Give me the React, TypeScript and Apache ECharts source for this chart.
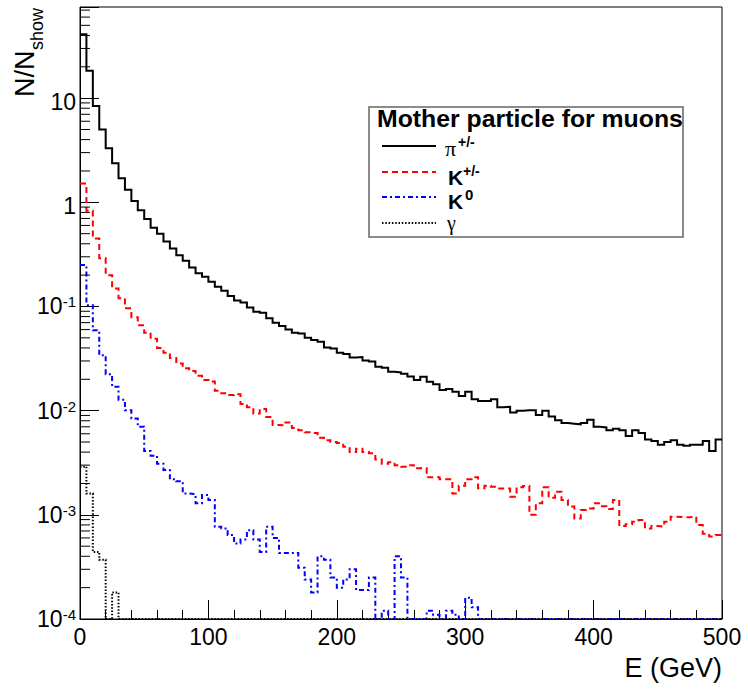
import React, { useEffect, useRef } from "react";
import * as echarts from "echarts";

const BIN_WIDTH = 5;
const X_MIN = 0;
const X_MAX = 500;
const X_INTERVAL = 100;
const Y_MIN = 1e-4;
const Y_MAX = 75;

// pi+/- (black solid), 5 GeV bins from 0 to 500 GeV
const piValues = [
  41, 18.3, 8.4, 5.0, 3.3, 2.37, 1.7, 1.32, 1.03, 0.84,
  0.69, 0.57, 0.5, 0.42, 0.36, 0.31, 0.275, 0.237, 0.208, 0.193,
  0.173, 0.155, 0.142, 0.126, 0.114, 0.109, 0.098, 0.089, 0.087, 0.077,
  0.07, 0.065, 0.06, 0.056, 0.055, 0.05, 0.0476, 0.0459, 0.0405, 0.0396,
  0.036, 0.0349, 0.0323, 0.0327, 0.0303, 0.0297, 0.0264, 0.0258, 0.0236, 0.0233,
  0.0226, 0.0213, 0.0197, 0.0212, 0.0189, 0.0179, 0.0158, 0.0161, 0.0152, 0.0138,
  0.0152, 0.0129, 0.0124, 0.0124, 0.0129, 0.0108, 0.0109, 0.0096, 0.01, 0.0101,
  0.0101, 0.0091, 0.01, 0.0088, 0.0081, 0.0076, 0.0075, 0.0074, 0.0076, 0.0082,
  0.007, 0.0069, 0.0065, 0.0067, 0.0065, 0.0057, 0.0065, 0.0061, 0.0053, 0.0051,
  0.0047, 0.005, 0.0052, 0.0047, 0.0046, 0.0047, 0.0047, 0.0051, 0.0041, 0.0053,
];

// K+/- (red dashed)
const kChargedValues = [
  1.52, 0.83, 0.45, 0.29, 0.2, 0.149, 0.12, 0.096, 0.079, 0.066,
  0.056, 0.049, 0.04, 0.036, 0.032, 0.0284, 0.0255, 0.024, 0.0216, 0.0197,
  0.019, 0.0155, 0.0147, 0.0141, 0.0144, 0.0116, 0.0108, 0.0094, 0.0104, 0.0087,
  0.0073, 0.0072, 0.0077, 0.0068, 0.0065, 0.0062, 0.0061, 0.0055, 0.0052, 0.005,
  0.0049, 0.0045, 0.004, 0.0043, 0.004, 0.0039, 0.0034, 0.0031, 0.0032, 0.003,
  0.0029, 0.003, 0.0028, 0.0028, 0.0023, 0.0023, 0.0022, 0.0022, 0.0016, 0.0019,
  0.0022, 0.0023, 0.0018, 0.0019, 0.00186, 0.00179, 0.00179, 0.00149, 0.00184, 0.00189,
  0.001, 0.00129, 0.00184, 0.00146, 0.00167, 0.00139, 0.0012, 0.00092, 0.00111, 0.00115,
  0.00129, 0.00121, 0.00114, 0.00139, 0.00078, 0.00081, 0.00086, 0.00089, 0.00074, 0.00078,
  0.00077, 0.00086, 0.00096, 0.00095, 0.00095, 0.00096, 0.0008, 0.00066, 0.00062, 0.00064,
];

// K0 (blue dash-dot)
const k0Values = [
  0.25, 0.103, 0.059, 0.034, 0.0224, 0.017, 0.0127, 0.0101, 0.0084, 0.007,
  0.0041, 0.0037, 0.0031, 0.0027, 0.0022, 0.0021, 0.0016, 0.00158, 0.00129, 0.00155,
  0.00139, 0.00077, 0.00074, 0.00064, 0.00053, 0.00058, 0.00071, 0.00058, 0.00044, 0.00077,
  0.0006, 0.00043, 0.00043, 0.00043, 0.00031, 0.00024, 0.00018, 0.0004, 0.00037, 0.00025,
  0.0002, 0.00024, 0.0003, 0.00019, 0.00019, 0.00025, 0, 0.00012, 0, 0.0004,
  0.00025, 0, 0, 0, 0.00012, 0.00011, 0, 0.00012, 0.00011, 0,
  0.00016, 0.00013, 0, 0, 0, 0, 0, 0, 0, 0,
  0, 0, 0, 0, 0, 0, 0, 0, 0, 0,
  0, 0, 0, 0, 0, 0, 0, 0, 0, 0,
  0, 0, 0, 0, 0, 0, 0, 0, 0, 0,
];

// gamma (black dotted)
const gammaValues = [
  0.0029, 0.0016, 0.00044, 0.00037, 0, 0.00018, 0, 0, 0, 0,
  0, 0, 0, 0, 0, 0, 0, 0, 0, 0,
  0, 0, 0, 0, 0, 0, 0, 0, 0, 0,
  0, 0, 0, 0, 0, 0, 0, 0, 0, 0,
  0, 0, 0, 0, 0, 0, 0, 0, 0, 0,
  0, 0, 0, 0, 0, 0, 0, 0, 0, 0,
  0, 0, 0, 0, 0, 0, 0, 0, 0, 0,
  0, 0, 0, 0, 0, 0, 0, 0, 0, 0,
  0, 0, 0, 0, 0, 0, 0, 0, 0, 0,
  0, 0, 0, 0, 0, 0, 0, 0, 0, 0,
];

const Y_DECADES = [1e-4, 1e-3, 1e-2, 1e-1, 1, 10];
const Y_MINOR_MULTIPLIERS = [2, 3, 4, 5, 6, 7, 8, 9];

const X_TITLE = "E (GeV)";
const Y_TITLE_MAIN = "N/N";
const Y_TITLE_SUB = "show";
const LEGEND_HEADER = "Mother particle for muons";

const FONT = "'Liberation Sans', Arial, Helvetica, sans-serif";
const SERIF = "'Liberation Serif', 'Times New Roman', serif";

const DASH_RED = [6, 4];
const DASH_BLUE = [5, 3, 2, 3];
const DASH_DOT = [1.5, 1.8];

function histData(vals: number[]) {
  const pts = vals.map((v, i) => [X_MIN + i * BIN_WIDTH, v > 0 ? v : Y_MIN]);
  const last = vals[vals.length - 1];
  pts.push([X_MIN + vals.length * BIN_WIDTH, last > 0 ? last : Y_MIN]);
  return pts;
}

function yLabel(v: number) {
  const l = Math.log10(v);
  const e = Math.round(l);
  if (Math.abs(l - e) > 1e-6) return "";
  if (e === 0) return "{p|1}";
  if (e === 1) return "{p|10}";
  return "{b|10}{s|" + e + "}";
}

export default function App() {
  const ref = useRef<HTMLDivElement>(null);
  useEffect(() => {
    document.body.style.margin = "0";
    if (!ref.current) return;
    const chart = echarts.init(ref.current, undefined, { renderer: "svg" });

    const yMinorTicks: number[] = [];
    Y_DECADES.forEach((d) =>
      Y_MINOR_MULTIPLIERS.forEach((m) => {
        const v = d * m;
        if (v < Y_MAX) yMinorTicks.push(v);
      })
    );

    const lineSeries = (name: string, vals: number[], color: string, dash: any) => ({
      name,
      type: "line",
      step: "end",
      symbol: "none",
      data: histData(vals),
      lineStyle: { color, width: 2, type: dash, cap: "butt", join: "miter" },
      z: 3,
    });

    const legendLineY = [146, 172, 197, 223];
    const legendLine = (y: number, color: string, dash: any) => ({
      type: "line",
      shape: { x1: 382, y1: y, x2: 436, y2: y },
      style: { stroke: color, lineWidth: 2, lineDash: dash },
      z: 101,
    });
    const txt = (x: number, y: number, text: string, fontSize: number, extra: any = {}) => ({
      type: "text",
      x,
      y,
      z: 101,
      style: {
        text,
        fontSize,
        fontFamily: FONT,
        fill: "#000",
        align: "left",
        verticalAlign: "middle",
        ...extra,
      },
    });

    chart.setOption({
      animation: false,
      backgroundColor: "#fff",
      grid: {
        left: 80,
        top: 7,
        right: 26,
        bottom: 71,
        show: true,
        borderColor: "#000",
        borderWidth: 1,
        containLabel: false,
        outerBoundsMode: "none",
      },
      xAxis: {
        type: "value",
        min: X_MIN,
        max: X_MAX,
        interval: X_INTERVAL,
        axisLine: { show: true, lineStyle: { color: "#000", width: 1 } },
        axisTick: { show: true, inside: true, length: 19, lineStyle: { color: "#000", width: 1 } },
        minorTick: { show: true, splitNumber: 5, length: 9, lineStyle: { color: "#000", width: 1 } },
        splitLine: { show: false },
        minorSplitLine: { show: false },
        axisLabel: { color: "#000", fontSize: 23, fontFamily: FONT, margin: 6 },
      },
      yAxis: {
        type: "log",
        logBase: 10,
        min: Y_MIN,
        max: Y_MAX,
        splitNumber: 6,
        axisLine: { show: true, lineStyle: { color: "#000", width: 1 } },
        axisTick: { show: true, inside: true, length: 19, lineStyle: { color: "#000", width: 1 } },
        splitLine: { show: false },
        axisLabel: {
          margin: 4,
          formatter: yLabel,
          rich: {
            b: { fontSize: 23, fontFamily: FONT, color: "#000", lineHeight: 24 },
            p: { fontSize: 23, fontFamily: FONT, color: "#000", lineHeight: 24, padding: [8, 0, 0, 0] },
            s: { fontSize: 15, fontFamily: FONT, color: "#000", lineHeight: 15, verticalAlign: "top" },
          },
        },
      },
      series: [
        lineSeries("pi", piValues, "#000000", "solid"),
        lineSeries("kcharged", kChargedValues, "#ff0000", DASH_RED),
        lineSeries("k0", k0Values, "#0000ff", DASH_BLUE),
        lineSeries("gamma", gammaValues, "#000000", DASH_DOT),
        {
          name: "yMinorTicks",
          type: "custom",
          silent: true,
          z: 4,
          data: yMinorTicks.map((v) => [X_MIN, v]),
          renderItem: (params: any, api: any) => {
            const p = api.coord([api.value(0), api.value(1)]);
            return {
              type: "line",
              shape: { x1: p[0], y1: p[1], x2: p[0] + 10, y2: p[1] },
              style: { stroke: "#000", lineWidth: 1 },
            };
          },
        },
      ],
      graphic: [
        // y-axis title (rotated)
        {
          type: "text",
          x: 25,
          y: 97,
          rotation: Math.PI / 2,
          style: { text: Y_TITLE_MAIN, fontSize: 27, fontFamily: FONT, fill: "#000", align: "left", verticalAlign: "middle" },
        },
        {
          type: "text",
          x: 37,
          y: 50,
          rotation: Math.PI / 2,
          style: { text: Y_TITLE_SUB, fontSize: 18, fontFamily: FONT, fill: "#000", align: "left", verticalAlign: "middle" },
        },
        // x-axis title
        {
          type: "text",
          x: 722,
          y: 668,
          style: { text: X_TITLE, fontSize: 27, fontFamily: FONT, fill: "#000", align: "right", verticalAlign: "middle" },
        },
        // legend box
        {
          type: "rect",
          z: 100,
          shape: { x: 369, y: 107, width: 314, height: 130 },
          style: { fill: "#fff", stroke: "#666", lineWidth: 1.5 },
        },
        txt(377, 118, LEGEND_HEADER, 24.8, { fontWeight: "bold" }),
        legendLine(legendLineY[0], "#000", null),
        legendLine(legendLineY[1], "#ff0000", DASH_RED),
        legendLine(legendLineY[2], "#0000ff", DASH_BLUE),
        legendLine(legendLineY[3], "#000", DASH_DOT),
        txt(445, 148, "π", 22, { fontFamily: SERIF }),
        txt(458, 142, "+/-", 14, { fontWeight: "bold" }),
        txt(448, 177, "K", 21, { fontWeight: "bold" }),
        txt(463, 171, "+/-", 14, { fontWeight: "bold" }),
        txt(448, 201, "K", 21, { fontWeight: "bold" }),
        txt(465, 194, "0", 15, { fontWeight: "bold" }),
        txt(447, 223, "γ", 20, { fontFamily: SERIF }),
      ],
    });

    return () => chart.dispose();
  }, []);

  return <div ref={ref} style={{ width: 748, height: 690 }} />;
}
